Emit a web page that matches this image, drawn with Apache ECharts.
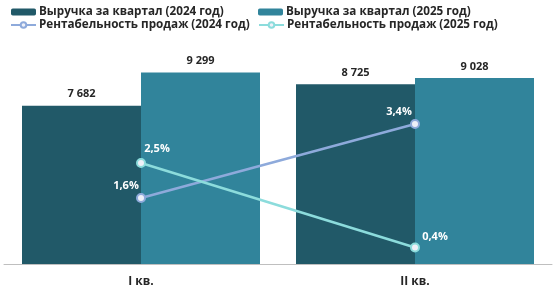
<!DOCTYPE html>
<html>
<head>
<meta charset="utf-8">
<script src="https://cdn.jsdelivr.net/npm/echarts@6/dist/echarts.min.js"></script>
<style>
  html, body { margin: 0; padding: 0; background: #fff; }
  #chart { width: 558px; height: 289px; }
</style>
</head>
<body>
<div id="chart"></div>
<script>
// данные
var categories = ["I кв.", "II кв."];
var revenue2024 = [7682, 8725];
var revenue2025 = [9299, 9028];
var margin2024 = [1.6, 3.4];
var margin2025 = [2.45, 0.4];

var seriesNames = [
  "Выручка за квартал (2024 год)",
  "Выручка за квартал (2025 год)",
  "Рентабельность продаж (2024 год)",
  "Рентабельность продаж (2025 год)"
];

var font = "Open Sans";
var textColor = "#262626";

function fmtNum(v) {
  return String(v).replace(/\B(?=(\d{3})+(?!\d))/g, " ");
}
function fmtPct(v) {
  return (Math.round(v * 10) / 10).toFixed(1).replace(".", ",") + "%";
}

// смещения подписей процентов
var offs2024 = [[-15, 3], [-16, 3]];
var offs2025 = [[16, 1], [20, 5]];

function pctData(values, offs) {
  return values.map(function (v, i) {
    return { value: v, label: { offset: offs[i] } };
  });
}

var myChart = echarts.init(document.getElementById("chart"));

// одна легенда на каждую серию, чтобы выставить колонки
function legendItem(name, left, top) {
  return {
    data: [name],
    left: left,
    top: top,
    itemWidth: 25,
    itemHeight: 7,
    textStyle: {
      fontFamily: font,
      fontWeight: "bold",
      fontSize: 11.7,
      color: textColor,
      padding: [0, 0, 0, -2]
    }
  };
}

var option = {
  animation: false,
  backgroundColor: "#fff",
  legend: [
    legendItem(seriesNames[0], 6, 1),
    legendItem(seriesNames[1], 253, 1),
    legendItem(seriesNames[2], 5, 14),
    legendItem(seriesNames[3], 253, 14)
  ],
  grid: {
    left: 4,
    right: 6,
    top: 58,
    bottom: 25,
    containLabel: false
  },
  xAxis: {
    type: "category",
    data: categories,
    axisTick: { show: false },
    axisLine: { lineStyle: { color: "#bfbfbf", width: 1 } },
    axisLabel: {
      margin: 12,
      fontFamily: font,
      fontWeight: "bold",
      fontSize: 12,
      color: textColor
    }
  },
  yAxis: [
    { type: "value", min: 0, max: 10000, show: false, splitLine: { show: false } },
    { type: "value", min: 0, max: 5, show: false, splitLine: { show: false } }
  ],
  series: [
    {
      name: seriesNames[0],
      type: "bar",
      data: revenue2024,
      barWidth: 119,
      barGap: "0%",
      itemStyle: { color: "#215968" },
      label: {
        show: true,
        position: "top",
        distance: 6,
        formatter: function (p) { return fmtNum(p.value); },
        fontFamily: font,
        fontWeight: "bold",
        fontSize: 11,
        color: textColor
      }
    },
    {
      name: seriesNames[1],
      type: "bar",
      data: revenue2025,
      barWidth: 119,
      barGap: "0%",
      itemStyle: { color: "#31849b" },
      label: {
        show: true,
        position: "top",
        distance: 6,
        formatter: function (p) { return fmtNum(p.value); },
        fontFamily: font,
        fontWeight: "bold",
        fontSize: 11,
        color: textColor
      }
    },
    {
      name: seriesNames[2],
      type: "line",
      yAxisIndex: 1,
      data: pctData(margin2024, offs2024),
      symbol: "circle",
      symbolSize: 8,
      lineStyle: { color: "#8eaadb", width: 2.5 },
      itemStyle: { color: "#eef0f8", borderColor: "#8eaadb", borderWidth: 2 },
      label: {
        show: true,
        position: "top",
        formatter: function (p) { return fmtPct(p.value); },
        fontFamily: font,
        fontWeight: "bold",
        fontSize: 11,
        color: "#fff"
      },
      z: 5
    },
    {
      name: seriesNames[3],
      type: "line",
      yAxisIndex: 1,
      data: pctData(margin2025, offs2025),
      symbol: "circle",
      symbolSize: 8,
      lineStyle: { color: "#8cdcdc", width: 2.5 },
      itemStyle: { color: "#eef0f8", borderColor: "#8cdcdc", borderWidth: 2 },
      label: {
        show: true,
        position: "top",
        formatter: function (p) { return fmtPct(p.value); },
        fontFamily: font,
        fontWeight: "bold",
        fontSize: 11,
        color: "#fff"
      },
      z: 5
    }
  ]
};
myChart.setOption(option);
</script>
</body>
</html>
